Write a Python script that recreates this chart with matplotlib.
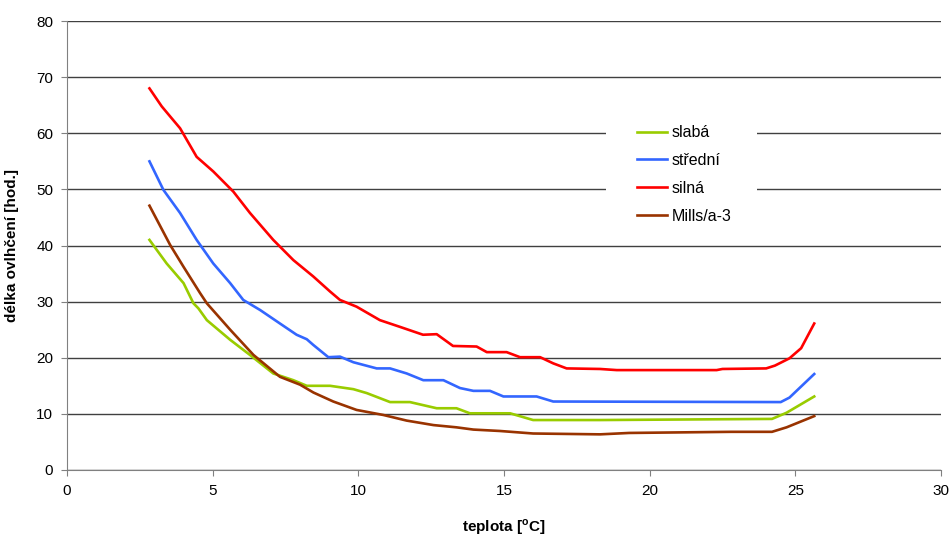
import matplotlib.pyplot as plt
from matplotlib.patches import Rectangle

plt.rcParams['font.family'] = ['Liberation Sans', 'DejaVu Sans']

# values
slaba_x = [2.83, 3.42, 4.0, 4.34, 4.51, 4.8, 5.6, 6.28, 7.08, 7.77, 8.23, 9.03, 9.83,
           10.29, 11.09, 11.77, 12.69, 13.37, 13.83, 15.21, 16.0, 18.3, 24.2, 24.7, 25.65]
slaba_y = [41.0, 36.8, 33.3, 29.7, 28.8, 26.7, 23.2, 20.5, 17.2, 16.0, 15.0, 15.0, 14.4,
           13.7, 12.1, 12.1, 11.0, 11.0, 10.1, 10.1, 8.9, 8.9, 9.1, 10.2, 13.1]

stredni_x = [2.83, 3.31, 3.88, 4.45, 5.02, 5.6, 6.05, 6.63, 7.31, 7.88, 8.23, 8.45, 8.97,
             9.37, 9.83, 10.63, 11.09, 11.66, 12.23, 12.92, 13.49, 13.95, 14.52, 14.98,
             16.12, 16.69, 24.5, 24.8, 25.65]
stredni_y = [55.0, 49.9, 45.8, 41.0, 36.8, 33.3, 30.3, 28.5, 26.1, 24.1, 23.3, 22.3, 20.1,
             20.2, 19.2, 18.1, 18.1, 17.2, 16.0, 16.0, 14.6, 14.1, 14.1, 13.1,
             13.1, 12.2, 12.1, 12.9, 17.1]

silna_x = [2.83, 3.25, 3.54, 3.88, 4.45, 5.02, 5.71, 6.28, 7.08, 7.77, 8.45, 9.03, 9.37,
           9.94, 10.74, 11.43, 12.22, 12.69, 13.25, 14.06, 14.41, 15.09, 15.55, 16.24,
           16.69, 17.15, 18.3, 18.87, 22.3, 22.5, 24.0, 24.3, 24.8, 25.2, 25.65]
silna_y = [68.0, 64.8, 63.0, 60.9, 55.8, 53.2, 49.6, 45.8, 41.0, 37.4, 34.5, 31.8, 30.3,
           29.1, 26.7, 25.5, 24.1, 24.2, 22.1, 22.0, 21.0, 21.0, 20.1, 20.1,
           19.0, 18.1, 18.0, 17.8, 17.8, 18.0, 18.1, 18.6, 19.9, 21.7, 26.1]

mills_x = [2.83, 3.54, 4.0, 4.57, 4.8, 5.6, 6.4, 7.31, 8.0, 8.46, 9.14, 9.94,
           10.86, 11.66, 12.58, 13.37, 13.95, 14.86, 16.0, 18.3, 19.3, 22.8, 24.2, 24.7, 25.65]
mills_y = [47.1, 40.1, 36.2, 31.5, 29.7, 25.0, 20.5, 16.6, 15.2, 13.8, 12.2, 10.7,
           9.8, 8.8, 8.0, 7.6, 7.2, 6.95, 6.5, 6.35, 6.6, 6.8, 6.8, 7.6, 9.6]

fig = plt.figure(figsize=(9.52, 5.37), dpi=100)
ax = fig.add_axes([0.0704, 0.1248, 0.918, 0.836])

ax.plot(slaba_x, slaba_y, color='#99CC00', lw=1.9, label='slabá')
ax.plot(stredni_x, stredni_y, color='#3366FF', lw=1.9, label='střední')
ax.plot(silna_x, silna_y, color='#FF0000', lw=1.9, label='silná')
ax.plot(mills_x, mills_y, color='#993300', lw=1.9, label='Mills/a-3')

ax.set_xlim(0, 30)
ax.set_ylim(0, 80)
ax.set_xticks(range(0, 31, 5))
ax.set_yticks(range(0, 81, 10))
ax.yaxis.grid(True, color='#404040', lw=1)
ax.set_axisbelow(True)
for s in ['top', 'right']:
    ax.spines[s].set_visible(False)
for s in ['left', 'bottom']:
    ax.spines[s].set_color('#808080')
ax.tick_params(direction='out', length=4, color='#808080', labelsize=11, pad=6)

ax.set_xlabel('teplota [$^{\\mathregular{o}}$C]', fontsize=11, fontweight='bold', labelpad=14)
ax.set_ylabel('délka ovlhčení [hod.]', fontsize=11, fontweight='bold', labelpad=12)

# white area behind the legend, hiding the grid there
ax.add_patch(Rectangle((0.617, 0.523), 0.172, 0.279, transform=ax.transAxes,
                       facecolor='white', edgecolor='none', zorder=1.5))
ax.legend(loc='upper left', bbox_to_anchor=(0.652, 0.768), frameon=False,
          fontsize=11.5, borderpad=0, handlelength=1.9, handletextpad=0.3,
          labelspacing=0.8, borderaxespad=0)

fig.savefig('out.png', dpi=100)
